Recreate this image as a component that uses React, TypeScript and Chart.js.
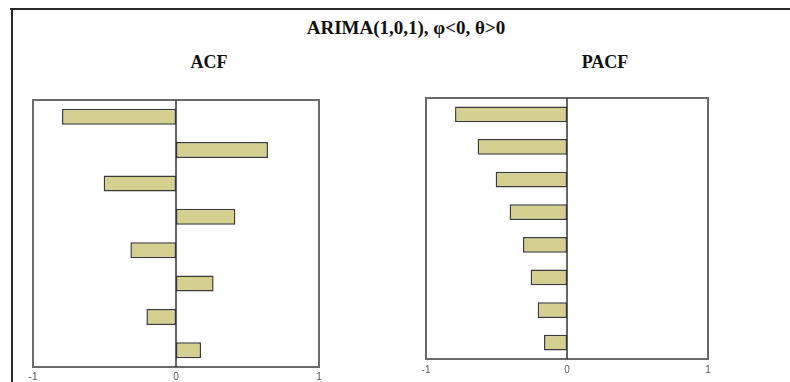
import React, { useEffect, useRef } from "react";
import { Chart, registerables } from "chart.js";

Chart.register(...registerables);

const lags = ["1", "2", "3", "4", "5", "6", "7", "8"];
const acfValues = [-0.797, 0.643, -0.506, 0.415, -0.319, 0.263, -0.207, 0.175];
const pacfValues = [-0.794, -0.634, -0.506, -0.407, -0.312, -0.258, -0.208, -0.163];
const axisTicks = [-1, 0, 1];

const mainTitle = "ARIMA(1,0,1), \u03c6<0, \u03b8>0";
const acfTitle = "ACF";
const pacfTitle = "PACF";

const boxPlugin = {
  id: "boxPlugin",
  afterDatasetsDraw(chart: any) {
    const { ctx, chartArea, scales } = chart;
    ctx.save();
    ctx.strokeStyle = "#6a6a6a";
    ctx.lineWidth = 2;
    ctx.strokeRect(chartArea.left, chartArea.top, chartArea.right - chartArea.left, chartArea.bottom - chartArea.top);
    const x0 = scales.x.getPixelForValue(0);
    ctx.strokeStyle = "#333";
    ctx.lineWidth = 1.5;
    ctx.beginPath();
    ctx.moveTo(x0, chartArea.top);
    ctx.lineTo(x0, chartArea.bottom);
    ctx.stroke();
    ctx.restore();
  },
};

function BarPanel({ values, pad, tickPad, left, top, width, height }: any) {
  const ref = useRef<HTMLCanvasElement>(null);
  useEffect(() => {
    const chart = new Chart(ref.current!, {
      type: "bar",
      data: {
        labels: lags,
        datasets: [
          {
            data: values,
            backgroundColor: "#d6d090",
            borderColor: "#3a3a3a",
            borderWidth: 1.5,
            borderSkipped: false,
            barPercentage: 0.48,
            categoryPercentage: 1,
          },
        ],
      },
      options: {
        indexAxis: "y",
        animation: false,
        responsive: false,
        maintainAspectRatio: false,
        layout: { padding: pad },
        plugins: { legend: { display: false }, tooltip: { enabled: false } },
        scales: {
          x: {
            min: -1,
            max: 1,
            afterBuildTicks: (axis: any) => {
              axis.ticks = axisTicks.map((v) => ({ value: v }));
            },
            grid: { display: false, drawTicks: false },
            border: { display: false },
            ticks: {
              padding: tickPad,
              color: "#555",
              font: { family: "Liberation Sans", size: 10 },
              maxRotation: 0,
              callback: (v: any) => String(v),
            },
          },
          y: { display: false },
        },
      },
      plugins: [boxPlugin],
    });
    return () => chart.destroy();
  }, []);
  return (
    <canvas
      ref={ref}
      width={width}
      height={height}
      style={{ position: "absolute", left, top, width, height }}
    />
  );
}

export default function App() {
  const serif = "'Liberation Serif', 'Times New Roman', serif";
  return (
    <div style={{ position: "absolute", left: 0, top: 0, width: 790, height: 382, background: "#fff", overflow: "hidden" }}>
      <div style={{ position: "absolute", left: 10, top: 8, width: 790, height: 2, background: "#2a2a2a" }} />
      <div style={{ position: "absolute", left: 11, top: 8, width: 2, height: 380, background: "#2a2a2a" }} />
      <div style={{ position: "absolute", left: 206, top: 18, width: 400, textAlign: "center", fontFamily: serif, fontWeight: "bold", fontSize: 19, color: "#111", lineHeight: "20px" }}>
        {mainTitle}
      </div>
      <div style={{ position: "absolute", left: 109, top: 52, width: 200, textAlign: "center", fontFamily: serif, fontWeight: "bold", fontSize: 18, color: "#111", lineHeight: "20px" }}>
        {acfTitle}
      </div>
      <div style={{ position: "absolute", left: 505, top: 52, width: 200, textAlign: "center", fontFamily: serif, fontWeight: "bold", fontSize: 18, color: "#111", lineHeight: "20px" }}>
        {pacfTitle}
      </div>
      <BarPanel values={acfValues} pad={{ left: 20, right: 24, top: 8, bottom: 0 }} tickPad={4} left={13} top={92} width={330} height={295} />
      <BarPanel values={pacfValues} pad={{ left: 20, right: 28, top: 8, bottom: 0 }} tickPad={5} left={406} top={90} width={330} height={291} />
    </div>
  );
}
